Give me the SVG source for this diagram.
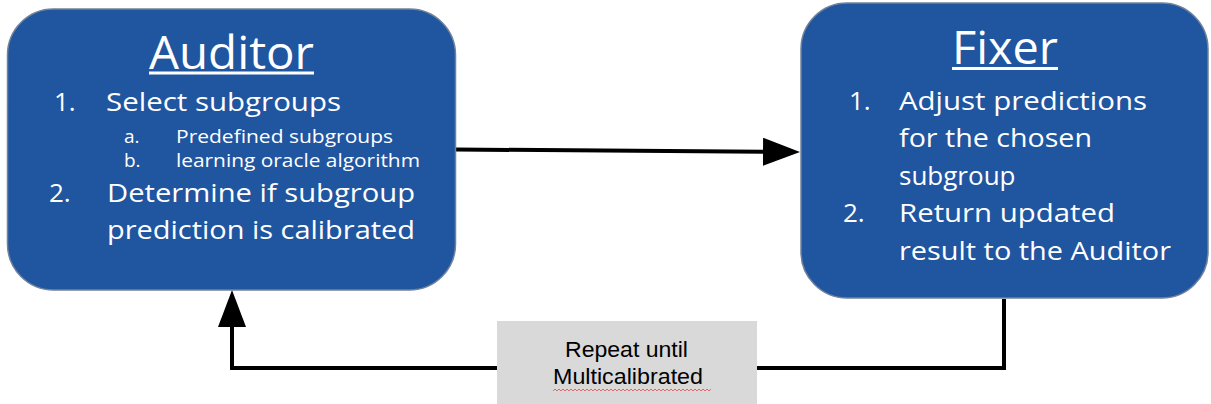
<svg xmlns="http://www.w3.org/2000/svg" width="1211" height="404" viewBox="0 0 1211 404">
<style>
.box{fill:#2055a0;stroke:#71829a;stroke-width:1.5}
.t{font-family:"Open Sans","DejaVu Sans",sans-serif;fill:#ffffff}
.title{font-size:45px}
.main{font-size:26px}
.sub{font-size:19px}
.lbl{font-family:"Liberation Sans",Arial,sans-serif;font-size:22px;fill:#000000}
.ln{fill:none;stroke:#000000;stroke-width:4;stroke-linejoin:miter}
</style>
<defs>
<marker id="ah" markerUnits="userSpaceOnUse" markerWidth="40" markerHeight="30" refX="0" refY="14" orient="auto">
<path d="M0,0 L37,14 L0,28 Z" fill="#000000"/>
</marker>
</defs>
<rect width="1211" height="404" fill="#ffffff"/>
<g id="connectors">
<path class="ln" d="M456,149.5 L763,151.7" marker-end="url(#ah)"/>
<path class="ln" d="M1004,299 L1004,368 L232,368 L232,327" marker-end="url(#ah)"/>
</g>
<g id="auditor">
<rect class="box" x="7.5" y="9" width="448" height="281" rx="46" ry="46"/>
<text class="t title" x="149" y="69" textLength="165" lengthAdjust="spacingAndGlyphs">Auditor</text>
<rect x="149" y="71.5" width="165" height="3" fill="#ffffff"/>
<text class="t main" x="54" y="111">1.</text>
<text class="t main" x="106" y="111" textLength="235" lengthAdjust="spacingAndGlyphs">Select subgroups</text>
<text class="t sub" x="124" y="143">a.</text>
<text class="t sub" x="176" y="143" textLength="217" lengthAdjust="spacingAndGlyphs">Predefined subgroups</text>
<text class="t sub" x="124" y="167">b.</text>
<text class="t sub" x="176" y="167" textLength="244" lengthAdjust="spacingAndGlyphs">learning oracle algorithm</text>
<text class="t main" x="49" y="202">2.</text>
<text class="t main" x="107" y="202" textLength="308" lengthAdjust="spacingAndGlyphs">Determine if subgroup</text>
<text class="t main" x="107" y="239" textLength="308" lengthAdjust="spacingAndGlyphs">prediction is calibrated</text>
</g>
<g id="fixer">
<rect class="box" x="801" y="3" width="407" height="295" rx="46" ry="46"/>
<text class="t title" x="952" y="64" textLength="106" lengthAdjust="spacingAndGlyphs">Fixer</text>
<rect x="952" y="67" width="106" height="3" fill="#ffffff"/>
<text class="t main" x="849" y="110">1.</text>
<text class="t main" x="899" y="110" textLength="248" lengthAdjust="spacingAndGlyphs">Adjust predictions</text>
<text class="t main" x="899" y="147" textLength="193" lengthAdjust="spacingAndGlyphs">for the chosen</text>
<text class="t main" x="899" y="185">subgroup</text>
<text class="t main" x="843" y="222">2.</text>
<text class="t main" x="899" y="222" textLength="216" lengthAdjust="spacingAndGlyphs">Return updated</text>
<text class="t main" x="899" y="260" textLength="272" lengthAdjust="spacingAndGlyphs">result to the Auditor</text>
</g>
<g id="label">
<rect x="497" y="321" width="260" height="83" fill="#d9d9d9"/>
<text class="lbl" x="565" y="357" textLength="123" lengthAdjust="spacingAndGlyphs">Repeat until</text>
<text class="lbl" x="553" y="384" textLength="150" lengthAdjust="spacingAndGlyphs">Multicalibrated</text>
<path d="M553,391 l2,-2 l2,2 l2,-2 l2,2 l2,-2 l2,2 l2,-2 l2,2 l2,-2 l2,2 l2,-2 l2,2 l2,-2 l2,2 l2,-2 l2,2 l2,-2 l2,2 l2,-2 l2,2 l2,-2 l2,2 l2,-2 l2,2 l2,-2 l2,2 l2,-2 l2,2 l2,-2 l2,2 l2,-2 l2,2 l2,-2 l2,2 l2,-2 l2,2 l2,-2 l2,2 l2,-2 l2,2 l2,-2 l2,2 l2,-2 l2,2 l2,-2 l2,2 l2,-2 l2,2 l2,-2 l2,2 l2,-2 l2,2 l2,-2 l2,2 l2,-2 l2,2 l2,-2 l2,2 l2,-2 l2,2 l2,-2 l2,2 l2,-2 l2,2 l2,-2 l2,2 l2,-2 l2,2 l2,-2 l2,2 l2,-2 l2,2 l2,-2 l2,2 l2,-2 l2,2 l2,-2 l2,2 l2,-2" fill="none" stroke="#e06666" stroke-width="1"/>
</g>
</svg>
